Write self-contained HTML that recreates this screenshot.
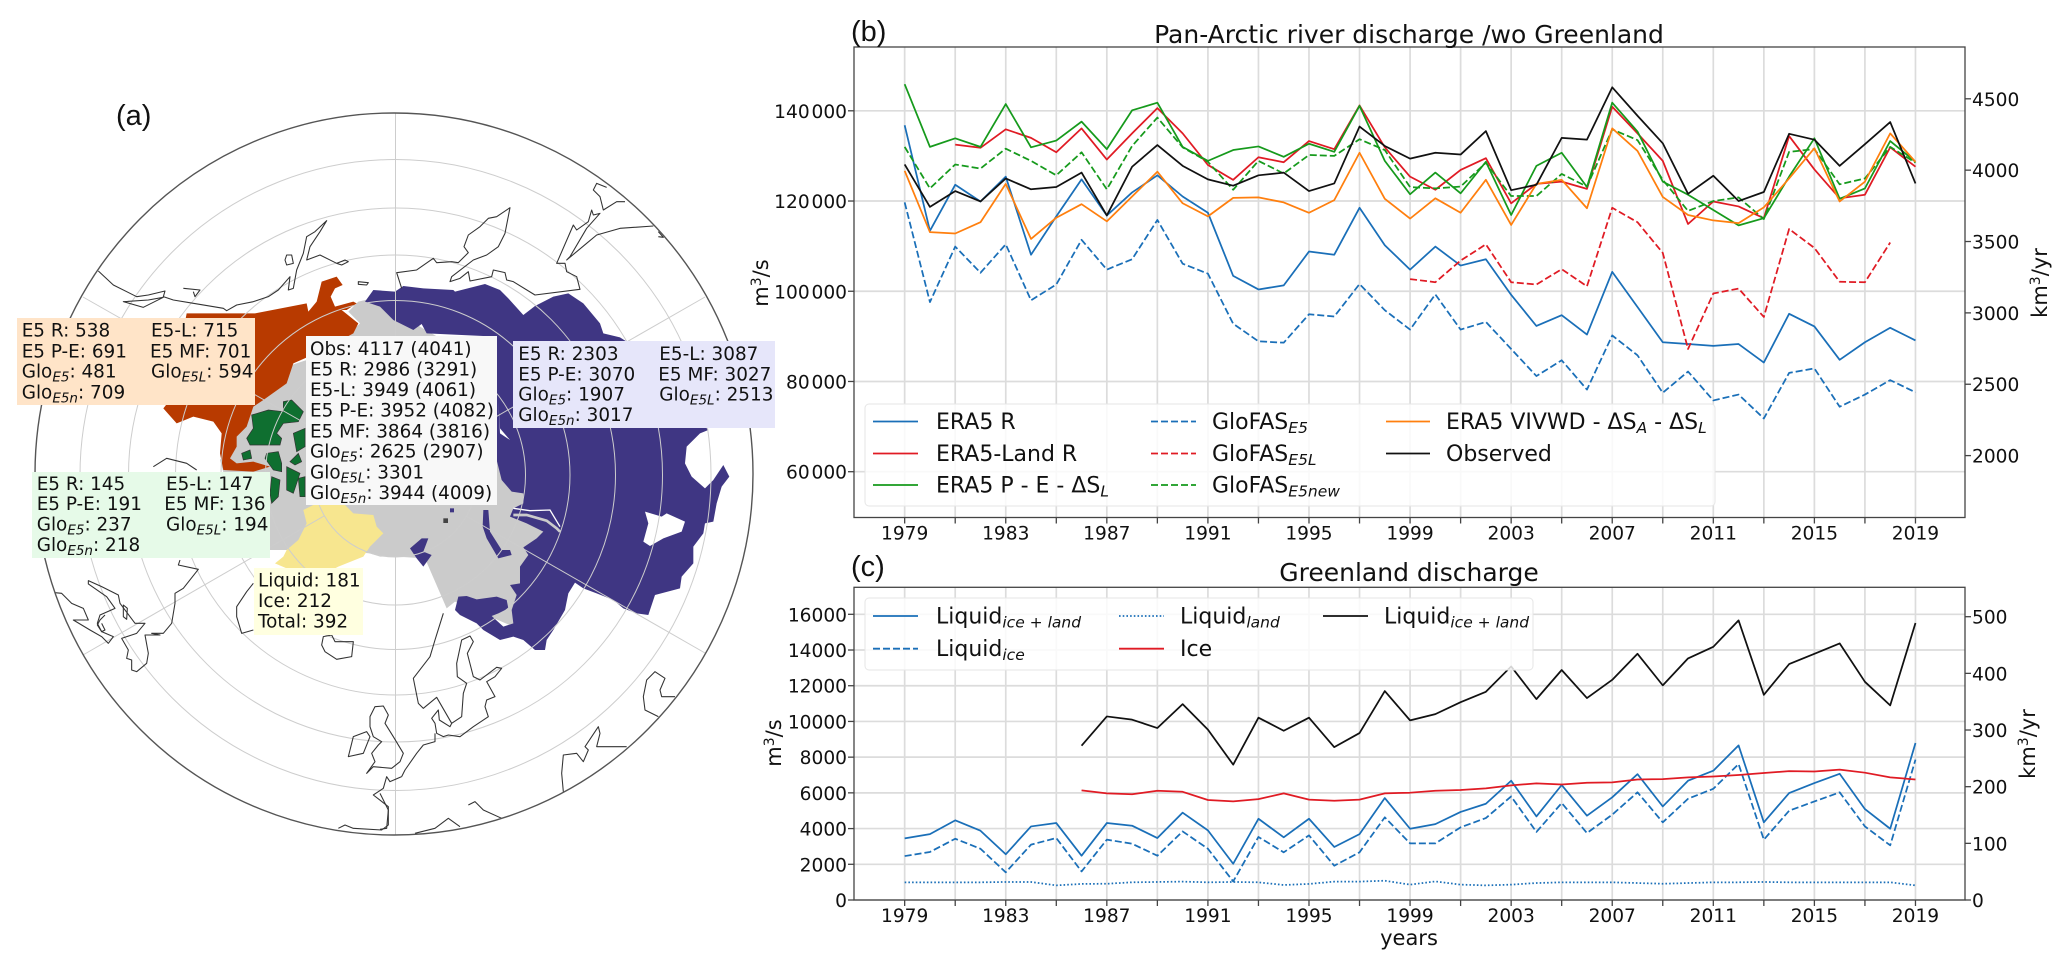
<!DOCTYPE html>
<html lang="en">
<head>
<meta charset="utf-8">
<title>Arctic river discharge</title>
<style>
html,body{margin:0;padding:0;background:#fff}
svg{display:block}
text{font-family:"DejaVu Sans","Liberation Sans",sans-serif;fill:#111}
.tick{font-size:18.6px}
.lg{font-size:22px}
.lab{font-size:18.4px}
.sub{font-size:13.5px;font-style:italic}
.sublg{font-size:15.5px;font-style:italic}
.pl{font-family:"Liberation Sans",sans-serif;font-size:29px}
.ttl{font-size:25px}
.ax{font-size:21px}
.coast{fill:none;stroke:#333;stroke-width:3.2;stroke-linejoin:round}
.grat{fill:none;stroke:#cdcdcd;stroke-width:1}
.gl{stroke:#dcdcdc;stroke-width:1.7}
.sp{stroke:#444;fill:none;stroke-width:1.3}
</style>
</head>
<body>
<svg id="fig" xmlns="http://www.w3.org/2000/svg" width="2067" height="968" viewBox="0 0 2067 968">
<rect width="2067" height="968" fill="#fff"/>

<g id="map">
  <g transform="translate(380,100) scale(.33333)">
    <polygon fill="#cbcbcb" points="-65,605 0,590 120,680 500,900 500,1450 400,1580 330,1550 225,1505 200,1525 135,1375 50,1370 0,1370 -30,1360 -150,1350 -330,1350 -420,1300 -480,1080 -430,1000 -380,880 -280,800 -220,780 -70,680 -60,670 -95,635"/>
    <path fill="#3f3683" d="M70,558L130,565 220,570 225,575 315,552 360,570 385,595 430,645 465,618 520,590 565,580 610,610 660,670 670,700 720,712 740,725 900,900 985,990 960,1000 920,1040 915,1090 935,1130 975,1165 1000,1140 1030,1095 1048,1130 1025,1160 1010,1210 1000,1265 975,1270 970,1300 940,1340 940,1390 905,1430 900,1465 825,1485 805,1545 770,1540 730,1525 700,1500 650,1480 610,1465 585,1448 565,1480 555,1530 520,1590 500,1620 495,1650 465,1650 430,1620 400,1610 360,1620 310,1590 290,1570 240,1545 225,1530 235,1490 260,1488 290,1498 350,1490 380,1500 385,1525 355,1540 335,1548 370,1580 400,1570 395,1530 410,1485 390,1455 420,1450 420,1400 445,1365 430,1342 470,1315 490,1295 440,1270 390,1250 400,1225 430,1210 430,1180 395,1175 365,1140 350,1080 350,710 140,700 125,672 100,690 40,660 0,620 -45,605 -20,570 45,575 70,558Z"/>
    <polygon fill="#fff" points="795,1235 845,1250 860,1240 915,1265 905,1295 850,1315 810,1338 790,1325 805,1270"/>
    <polyline fill="none" stroke="#cbcbcb" stroke-width="8" points="400,1245 440,1245 500,1262 530,1285 540,1295"/>
    <polyline fill="none" stroke="#fff" stroke-width="4" points="400,1225 450,1232 510,1230 540,1280"/>
    <polygon fill="#3f3683" points="310,1230 325,1230 330,1295 365,1350 390,1350 395,1365 355,1375 320,1315 308,1280"/>
    <polygon fill="#3f3683" points="90,1345 125,1315 145,1315 130,1355 155,1365 130,1400 110,1375"/>
    <polygon fill="#fff" points="355,905 360,985 390,1020 360,1000"/>
    <rect x="190" y="1255" width="14" height="14" fill="#444"/>
    <rect x="210" y="1225" width="12" height="12" fill="#3f3683"/>
  </g>
  <g transform="translate(20,100) scale(.33333)">
    <polygon fill="#b83a00" points="905,545 950,530 968,555 945,565 932,590 945,620 1000,605 1010,610 980,630 965,630 1015,670 1000,700 900,755 820,790 800,850 730,900 700,920 680,980 650,1010 650,1040 630,1075 650,1090 700,1085 750,1100 700,1115 610,1110 600,1060 605,1000 580,965 520,950 470,970 430,925 450,900 500,640 705,640 860,610 865,635 890,605"/>
    <g fill="#0f6f30" stroke="#333" stroke-width="2">
      <polygon points="695,945 745,930 790,935 790,905 815,900 850,935 835,965 790,970 770,1000 785,1015 780,1035 690,1035 680,1015 700,985"/>
      <polygon points="820,1000 855,985 855,1040 830,1055"/>
      <polygon points="740,1060 775,1055 785,1090 785,1115 760,1110 735,1075"/>
      <polygon points="665,1060 690,1050 695,1075 670,1080"/>
      <polygon points="810,1085 835,1060 845,1085 825,1095"/>
      <polygon points="800,1100 840,1120 820,1180 800,1170"/>
      <polygon points="835,1135 855,1130 855,1190 840,1190"/>
      <polygon points="755,1130 780,1140 775,1190 755,1210 750,1180"/>
    </g>
    <polygon fill="#f7e68f" points="850,1230 880,1215 975,1215 1000,1240 1060,1245 1070,1280 1090,1300 1050,1340 1030,1370 955,1400 945,1405 800,1405 765,1390 790,1370 800,1350 835,1320 860,1270"/>
  </g>

  <g>
    <circle class="grat" cx="395.5" cy="475" r="82"/>
    <circle class="grat" cx="395.5" cy="475" r="130"/>
    <circle class="grat" cx="395.5" cy="475" r="174.5"/>
    <circle class="grat" cx="395.5" cy="475" r="220"/>
    <circle class="grat" cx="395.5" cy="475" r="267"/>
    <circle class="grat" cx="395.5" cy="475" r="315.5"/>
    <line class="grat" x1="395.5" y1="113" x2="395.5" y2="393"/>
    <line class="grat" x1="395.5" y1="557" x2="395.5" y2="835"/>
    <line class="grat" x1="705" y1="297" x2="466" y2="434"/>
    <line class="grat" x1="705" y1="653" x2="466" y2="516"/>
    <line class="grat" x1="83" y1="297" x2="324" y2="434"/>
    <line class="grat" x1="83" y1="655" x2="324" y2="516"/>
  </g>

  <g transform="translate(20,100) scale(.33333)">
    <polyline class="coast" points="235,513 280,555 350,590 385,585 435,573 430,590 460,600 520,610 610,625 620,632 650,615 700,605 745,590 775,570 810,530 805,570 820,565 830,510 850,460 860,410 885,395 920,362 900,395 870,440 860,480 900,465 950,490 975,480 985,485 965,495 950,490"/>
    <polygon class="coast" points="800,465 815,465 820,490 800,495 795,480"/>
    <polygon class="coast" points="310,605 370,622 430,592 385,600"/>
    <polyline class="coast" points="490,565 540,570 525,590 520,575"/>
    <polygon class="coast" points="1015,545 1045,548 1040,555 1015,553"/>
    <polyline class="coast" points="400,1100 440,1075 500,1090 530,1110"/>
    <polyline class="coast" points="480,1380 475,1395 535,1408 490,1465 465,1480 465,1510 455,1570 430,1600 395,1600 420,1605 375,1605 385,1660 380,1690 350,1715 335,1710 335,1680 320,1675 325,1650 305,1615 350,1600 375,1570 345,1570 300,1510 295,1485 245,1460 205,1442 205,1452 260,1490 285,1525 240,1545 232,1570 245,1595 280,1610 265,1630 245,1610 210,1590 160,1560 205,1560 190,1525 155,1510 125,1480 105,1478"/>
    <polygon class="coast" points="310,1515 322,1525 320,1558 310,1550"/>
    <polyline class="coast" points="255,1545 240,1560 232,1575 245,1595 255,1590 245,1570"/>
    <polyline class="coast" points="700,1450 680,1475 650,1520 650,1550 665,1600 700,1590"/>
    <polygon class="coast" points="910,1610 935,1605 945,1625 1000,1625 995,1670 950,1678 915,1655 905,1635"/>
    <polygon class="coast" points="1065,1820 1090,1818 1105,1845 1095,1870 1120,1910 1150,1960 1140,1985 1115,2005 1060,2000 1040,2020 1065,1985 1055,1960 1075,1935 1085,1925 1060,1910 1050,1880 1050,1850"/>
    <polygon class="coast" points="1000,1910 1040,1895 1050,1910 1030,1960 985,1970 995,1930"/>
    <polyline class="coast" points="955,2185 975,2175 1000,2185 1085,2190 1105,2175 1105,2120 1060,2085 1090,2065 1100,2030 1110,2045 1145,2030"/>
  </g>
  <g transform="translate(380,100) scale(.33333)">
    <polyline class="coast" points="65,565 50,518 110,510 160,475 170,488 215,485 235,488 265,458 252,440 265,405 300,380 325,355 350,350 390,323 375,400 355,440 320,465 280,480 215,530 210,545 240,535 265,515 270,543 335,530 340,510 375,518 380,540 400,545 465,585 600,568 590,530 560,515 555,490 530,490 580,375 590,390 625,365 635,330 640,345 660,340 620,385 570,470 560,480 620,430 650,405 720,385 820,378"/>
    <polyline class="coast" points="735,305 710,305 670,330 660,290 640,270 650,250 680,262"/>
    <polyline class="coast" points="835,395 850,412 835,410"/>
    <polyline class="coast" points="190,1540 165,1620 150,1670 100,1735 115,1810 130,1825 170,1792 215,1870 245,1850 250,1780 260,1750 232,1730 230,1690 245,1620 270,1608 280,1625 262,1660 280,1730 300,1740 350,1702 365,1705 345,1730 320,1745 345,1790 320,1800 315,1820 325,1850 280,1880 240,1910 205,1905 190,1910 170,1900 165,1870 155,1855 175,1830 178,1860 210,1880 215,1870"/>
    <polyline class="coast" points="65,2030 75,2010 110,1960 130,1935 165,1925 165,1900"/>
    <polyline class="coast" points="0,2080 25,2130 20,2185 0,2188"/>
    <polyline class="coast" points="265,2115 285,2105 310,2130 365,2155"/>
    <polyline class="coast" points="105,2200 165,2185 205,2155 240,2180"/>
    <polyline class="coast" points="550,2075 545,2020 550,1965 590,1960 610,1985 625,1950 615,1940 655,1880 660,1900 650,1940 740,1940"/>
    <polyline class="coast" points="885,1790 845,1790 840,1770 855,1735 825,1715 800,1740 790,1790 795,1830 835,1850"/>
  </g>
  <ellipse cx="394" cy="474" rx="359" ry="361" fill="none" stroke="#555" stroke-width="1.4"/>
</g>

<text class="pl" x="116" y="125">(a)</text>

<g>
  <rect x="17" y="318" width="238" height="87" fill="#ffe4c8"/>
  <text class="lab" x="21.7" y="336.7">E5 R: 538</text>
  <text class="lab" x="151" y="336.7">E5-L: 715</text>
  <text class="lab" x="21.7" y="357.3">E5 P-E: 691</text>
  <text class="lab" x="150" y="357.3">E5 MF: 701</text>
  <text class="lab" x="21.7" y="377.7">Glo<tspan class="sub" dy="4">E5</tspan><tspan dy="-4">: 481</tspan></text>
  <text class="lab" x="151" y="377.7">Glo<tspan class="sub" dy="4">E5L</tspan><tspan dy="-4">: 594</tspan></text>
  <text class="lab" x="21.7" y="398.3">Glo<tspan class="sub" dy="4">E5n</tspan><tspan dy="-4">: 709</tspan></text>
</g>
<g>
  <rect x="32" y="472" width="238" height="86" fill="#e6fae8"/>
  <text class="lab" x="36.7" y="490">E5 R: 145</text>
  <text class="lab" x="166" y="490">E5-L: 147</text>
  <text class="lab" x="36.7" y="510">E5 P-E: 191</text>
  <text class="lab" x="164.3" y="510">E5 MF: 136</text>
  <text class="lab" x="36.7" y="530.7">Glo<tspan class="sub" dy="4">E5</tspan><tspan dy="-4">: 237</tspan></text>
  <text class="lab" x="166" y="530.7">Glo<tspan class="sub" dy="4">E5L</tspan><tspan dy="-4">: 194</tspan></text>
  <text class="lab" x="36.7" y="551">Glo<tspan class="sub" dy="4">E5n</tspan><tspan dy="-4">: 218</tspan></text>
</g>
<g>
  <rect x="306" y="336" width="191" height="169" fill="#f8f8f8"/>
  <text class="lab" x="310" y="355">Obs: 4117 (4041)</text>
  <text class="lab" x="310" y="375.7">E5 R: 2986 (3291)</text>
  <text class="lab" x="310" y="396">E5-L: 3949 (4061)</text>
  <text class="lab" x="310" y="416.7">E5 P-E: 3952 (4082)</text>
  <text class="lab" x="310" y="437.3">E5 MF: 3864 (3816)</text>
  <text class="lab" x="310" y="457.7">Glo<tspan class="sub" dy="4">E5</tspan><tspan dy="-4">: 2625 (2907)</tspan></text>
  <text class="lab" x="310" y="478.3">Glo<tspan class="sub" dy="4">E5L</tspan><tspan dy="-4">: 3301</tspan></text>
  <text class="lab" x="310" y="499">Glo<tspan class="sub" dy="4">E5n</tspan><tspan dy="-4">: 3944 (4009)</tspan></text>
</g>
<g>
  <rect x="513" y="341" width="262" height="87" fill="#e6e6fa"/>
  <text class="lab" x="518.3" y="360">E5 R: 2303</text>
  <text class="lab" x="659.3" y="360">E5-L: 3087</text>
  <text class="lab" x="518.3" y="380.3">E5 P-E: 3070</text>
  <text class="lab" x="658.3" y="380.3">E5 MF: 3027</text>
  <text class="lab" x="518.3" y="400.7">Glo<tspan class="sub" dy="4">E5</tspan><tspan dy="-4">: 1907</tspan></text>
  <text class="lab" x="659.3" y="400.7">Glo<tspan class="sub" dy="4">E5L</tspan><tspan dy="-4">: 2513</tspan></text>
  <text class="lab" x="518.3" y="421">Glo<tspan class="sub" dy="4">E5n</tspan><tspan dy="-4">: 3017</tspan></text>
</g>
<g>
  <rect x="254" y="568" width="109" height="67" fill="#ffffe0"/>
  <text class="lab" x="258" y="586.7">Liquid: 181</text>
  <text class="lab" x="258" y="607">Ice: 212</text>
  <text class="lab" x="258" y="627.3">Total: 392</text>
</g>

<g id="panelB"></g>
<g id="panelC"></g>

<text class="pl" x="851" y="41">(b)</text>
<text class="ttl" x="1409" y="43" text-anchor="middle">Pan-Arctic river discharge /wo Greenland</text>
<text class="pl" x="851" y="576">(c)</text>
<text class="ttl" x="1409" y="581" text-anchor="middle">Greenland discharge</text>
<text class="ax" x="1409" y="945" text-anchor="middle">years</text>
<text class="ax" transform="translate(768,283) rotate(-90)" text-anchor="middle">m<tspan font-size="14" dy="-7">3</tspan><tspan dy="7">/s</tspan></text>
<text class="ax" transform="translate(2047,283) rotate(-90)" text-anchor="middle">km<tspan font-size="14" dy="-7">3</tspan><tspan dy="7">/yr</tspan></text>
<text class="ax" transform="translate(781,743) rotate(-90)" text-anchor="middle">m<tspan font-size="14" dy="-7">3</tspan><tspan dy="7">/s</tspan></text>
<text class="ax" transform="translate(2035,744) rotate(-90)" text-anchor="middle">km<tspan font-size="14" dy="-7">3</tspan><tspan dy="7">/yr</tspan></text>

<g>
  <rect x="865" y="404" width="850" height="102" rx="4" fill="#fff" fill-opacity=".82" stroke="#e6e6e6"/>
  <g><line x1="873" x2="918" y1="421.5" y2="421.5" stroke="#1a6fb8" stroke-width="1.8"/><text class="lg" x="936" y="429">ERA5 R</text></g>
  <g><line x1="873" x2="918" y1="453.5" y2="453.5" stroke="#e01b24" stroke-width="1.8"/><text class="lg" x="936" y="461">ERA5-Land R</text></g>
  <g><line x1="873" x2="918" y1="485" y2="485" stroke="#169a1c" stroke-width="1.8"/><text class="lg" x="936" y="492.5">ERA5 P - E - ΔS<tspan class="sublg" dy="4">L</tspan></text></g>
  <g><line x1="1151" x2="1196" y1="421.5" y2="421.5" stroke="#1a6fb8" stroke-width="1.8" stroke-dasharray="7 3"/><text class="lg" x="1212" y="429">GloFAS<tspan class="sublg" dy="4">E5</tspan></text></g>
  <g><line x1="1151" x2="1196" y1="453.5" y2="453.5" stroke="#e01b24" stroke-width="1.8" stroke-dasharray="7 3"/><text class="lg" x="1212" y="461">GloFAS<tspan class="sublg" dy="4">E5L</tspan></text></g>
  <g><line x1="1151" x2="1196" y1="485" y2="485" stroke="#169a1c" stroke-width="1.8" stroke-dasharray="7 3"/><text class="lg" x="1212" y="492.5">GloFAS<tspan class="sublg" dy="4">E5new</tspan></text></g>
  <g><line x1="1386" x2="1430" y1="421.5" y2="421.5" stroke="#ff7f0e" stroke-width="1.8"/><text class="lg" x="1446" y="429">ERA5 VIVWD - ΔS<tspan class="sublg" dy="4">A</tspan><tspan dy="-4"> - ΔS</tspan><tspan class="sublg" dy="4">L</tspan></text></g>
  <g><line x1="1386" x2="1430" y1="453.5" y2="453.5" stroke="#111" stroke-width="1.8"/><text class="lg" x="1446" y="461">Observed</text></g>
</g>

<g>
  <rect x="865" y="598" width="668" height="72" rx="4" fill="#fff" fill-opacity=".82" stroke="#e6e6e6"/>
  <g><line x1="873" x2="918" y1="616" y2="616" stroke="#1a6fb8" stroke-width="1.8"/><text class="lg" x="936" y="623.5">Liquid<tspan class="sublg" dy="4">ice + land</tspan></text></g>
  <g><line x1="873" x2="918" y1="648.7" y2="648.7" stroke="#1a6fb8" stroke-width="1.8" stroke-dasharray="7 3"/><text class="lg" x="936" y="656">Liquid<tspan class="sublg" dy="4">ice</tspan></text></g>
  <g><line x1="1119" x2="1164" y1="616" y2="616" stroke="#1a6fb8" stroke-width="1.8" stroke-dasharray="1.6 2.1"/><text class="lg" x="1180" y="623.5">Liquid<tspan class="sublg" dy="4">land</tspan></text></g>
  <g><line x1="1119" x2="1164" y1="648.7" y2="648.7" stroke="#e01b24" stroke-width="1.8"/><text class="lg" x="1180" y="656">Ice</text></g>
  <g><line x1="1323" x2="1368" y1="616" y2="616" stroke="#111" stroke-width="1.8"/><text class="lg" x="1384" y="623.5">Liquid<tspan class="sublg" dy="4">ice + land</tspan></text></g>
</g>
</svg>
<script>
const yearTicks = [1979,1981,1983,1985,1987,1989,1991,1993,1995,1997,1999,2001,2003,2005,2007,2009,2011,2013,2015,2017,2019];
const yearLabels = [1979,1983,1987,1991,1995,1999,2003,2007,2011,2015,2019];

const bLeftTicks = [60000,80000,100000,120000,140000];
const bLeftLabels = ["60\u200a000","80\u200a000","100\u200a000","120\u200a000","140\u200a000"];
const bRightTicks = [2000,2500,3000,3500,4000,4500];
const cLeftTicks = [0,2000,4000,6000,8000,10000,12000,14000,16000];
const cRightTicks = [0,100,200,300,400,500];

const era5R = [136800,113400,123600,119900,125400,108100,116600,124800,116800,121900,125700,121000,117400,103400,100400,101300,108800,108100,118500,110200,104800,109900,105700,107100,99200,92300,94700,90400,104300,96500,88700,88300,87900,88300,84200,95000,92200,84800,88700,91900,89100];
const era5LandR = [null,null,132500,131800,135900,134000,130800,136100,129200,135000,140600,135000,128000,124700,129700,128600,133300,131500,141200,131900,125400,122500,126900,129500,119500,123800,124300,122700,140900,135000,128900,114900,119900,118800,116200,134400,127000,120600,121400,131900,127600];
const era5PE = [145900,132000,133900,132000,141500,131900,133400,137600,131500,140100,141800,132000,128900,131300,132100,129800,132700,130900,141100,128900,121500,126300,121700,128700,116900,127800,130700,123100,141800,135400,124300,121400,118000,114600,116200,125400,133900,120500,122800,133300,128700];
const gloE5 = [119700,97600,109900,104100,110400,98000,101500,111400,104800,107100,115800,106100,103900,92800,88900,88600,94900,94400,101600,95800,91500,99300,91500,93200,87200,81200,84700,78200,90200,85800,77500,82200,75800,77100,71800,81900,82900,74400,77100,80300,77600];
const gloE5L = [null,null,null,null,null,null,null,null,null,null,null,null,null,null,null,null,null,null,null,null,102700,102000,106800,110400,102000,101500,104900,101100,118500,115300,108500,87200,99500,100600,94300,113800,109600,102100,102000,110800,null];
const gloE5new = [132000,122800,128100,127200,131600,128900,125700,130800,122600,132200,138500,131900,128700,122500,128900,126100,130200,130000,133700,131300,123100,122800,123200,128500,121100,121100,126000,123200,135900,133500,124700,117800,120000,120800,116000,130900,131500,123700,125000,132000,128500];
const vivwd = [126700,113100,112800,115300,123800,111600,116300,119300,115500,121000,126500,119500,116600,120700,120800,119700,117400,120200,130700,120500,116100,120600,117400,124700,114700,123800,124700,118400,136100,131100,120900,116900,115700,115100,118600,125000,131700,119900,124300,135000,128700];
const observed = [128100,118700,122200,119900,125000,122600,123100,126300,116800,127600,132400,127800,124800,123400,125700,126300,122200,123900,136500,132200,129400,130700,130300,135500,122400,123600,134000,133600,145200,138900,132800,121600,125600,120000,122000,134900,133600,127800,132600,137500,123900];

const liquidIceLand = [3450,3690,4460,3880,2560,4120,4310,2480,4310,4160,3470,4890,3900,2030,4550,3510,4550,2970,3690,5710,3990,4250,4930,5390,6680,4680,6440,4720,5750,7050,5240,6680,7240,8660,4350,5990,6550,7070,5090,3990,8790];
const liquidIce = [2460,2690,3430,2870,1550,3100,3470,1600,3380,3150,2480,3840,2870,1040,3530,2670,3620,1920,2670,4630,3170,3170,4070,4590,5800,3810,5430,3750,4780,6030,4350,5670,6230,7610,3380,5000,5520,6030,4120,3060,7860];
const liquidLand = [990,990,990,990,1010,1010,820,900,910,990,1010,1030,990,1010,990,840,900,1030,1030,1080,860,1040,860,820,860,950,990,990,990,950,910,950,990,990,1010,990,990,990,990,990,820];
const iceDischarge = [null,null,null,null,null,null,null,6140,5970,5920,6120,6060,5600,5520,5650,5970,5620,5560,5620,5970,6010,6120,6160,6250,6420,6530,6470,6570,6590,6750,6770,6870,6920,7000,7110,7220,7200,7300,7130,6870,6750];
const liquidTotal = [null,null,null,null,null,null,null,8640,10280,10100,9630,10970,9540,7580,10210,9480,10210,8560,9350,11700,10060,10410,11080,11660,13080,11250,12880,11310,12330,13790,12020,13530,14180,15660,11490,13210,13790,14370,12220,10900,15510];

const NS = "http://www.w3.org/2000/svg";
const firstYear = 1979;
const BLUE = "#1a6fb8", RED = "#e01b24", GREEN = "#169a1c", ORANGE = "#ff7f0e", BLACK = "#111";

function xScale(year){ return 904.67 + (year - 1979) * 25.27; }
function yB(v){ return 110.8 + (140000 - v) * 0.0045113; }
function yBR(v){ return 455.6 - (v - 2000) * 0.14272; }
function yC(v){ return 900 - v * 0.017856; }
function yCR(v){ return 900 - v * 0.5666; }

function make(parent, tag, attrs, txt){
  const el = document.createElementNS(NS, tag);
  for (const k in attrs) el.setAttribute(k, attrs[k]);
  if (txt !== undefined) el.textContent = txt;
  parent.appendChild(el);
  return el;
}

function drawAxes(g, box, leftVals, leftLabels, yL, rightVals, yR, prefix){
  leftVals.forEach(function(v, i){
    const y = yL(v);
    const gl = make(g, "line", {class:"gl", x1:box.l, x2:box.r, y1:y, y2:y});
    
    
    const t = make(g, "line", {class:"sp", x1:box.l-6, x2:box.l, y1:y, y2:y});
    
    
    const lb = make(g, "text", {class:"tick", x:box.l-7, y:y+7, "text-anchor":"end"}, leftLabels[i]);
    
    
  });
  yearTicks.forEach(function(yr){
    const x = xScale(yr);
    const gl = make(g, "line", {class:"gl", x1:x, x2:x, y1:box.t, y2:box.b});
    
    
    const t = make(g, "line", {class:"sp", x1:x, x2:x, y1:box.b, y2:box.b+6});
    
    
  });
  yearLabels.forEach(function(yr){
    const lb = make(g, "text", {class:"tick", x:xScale(yr), y:box.b+22, "text-anchor":"middle"}, String(yr));
    
    
  });
  rightVals.forEach(function(v){
    const y = yR(v);
    const t = make(g, "line", {class:"sp", x1:box.r, x2:box.r+6, y1:y, y2:y});
    
    
    const lb = make(g, "text", {class:"tick", x:box.r+7, y:y+7}, String(v));
    
    
  });
  const fr = make(g, "rect", {class:"sp", x:box.l, y:box.t, width:box.r-box.l, height:box.b-box.t});
  
  
}

function drawSeries(g, values, yFn, color, dash, name){
  const pts = [];
  values.forEach(function(v, i){
    if (v !== null) pts.push(xScale(firstYear + i).toFixed(2) + "," + yFn(v).toFixed(2));
  });
  const attrs = {points:pts.join(" "), fill:"none", stroke:color, "stroke-width":1.75, "stroke-linejoin":"round"};
  if (dash) attrs["stroke-dasharray"] = dash;
  const line = make(g, "polyline", attrs);
  
  
}

const gB = document.getElementById("panelB");
const gC = document.getElementById("panelC");
drawAxes(gB, {l:854,r:1965,t:47,b:517.5}, bLeftTicks, bLeftLabels, yB, bRightTicks, yBR, "pan-arctic");
drawAxes(gC, {l:854,r:1965,t:587.3,b:900}, cLeftTicks, cLeftTicks.map(String), yC, cRightTicks, yCR, "greenland");

const DASH = "7 3", DOT = "1.6 2.1";
drawSeries(gB, era5R, yB, BLUE, null, "series-era5-r");
drawSeries(gB, era5LandR, yB, RED, null, "series-era5-land-r");
drawSeries(gB, era5PE, yB, GREEN, null, "series-era5-pe");
drawSeries(gB, gloE5, yB, BLUE, DASH, "series-glofas-e5");
drawSeries(gB, gloE5L, yB, RED, DASH, "series-glofas-e5l");
drawSeries(gB, gloE5new, yB, GREEN, DASH, "series-glofas-e5new");
drawSeries(gB, vivwd, yB, ORANGE, null, "series-era5-vivwd");
drawSeries(gB, observed, yB, BLACK, null, "series-observed");

drawSeries(gC, liquidIceLand, yC, BLUE, null, "series-liquid-ice-land");
drawSeries(gC, liquidIce, yC, BLUE, DASH, "series-liquid-ice");
drawSeries(gC, liquidLand, yC, BLUE, DOT, "series-liquid-land");
drawSeries(gC, iceDischarge, yC, RED, null, "series-ice");
drawSeries(gC, liquidTotal, yC, BLACK, null, "series-liquid-total");
</script>
</body>
</html>
